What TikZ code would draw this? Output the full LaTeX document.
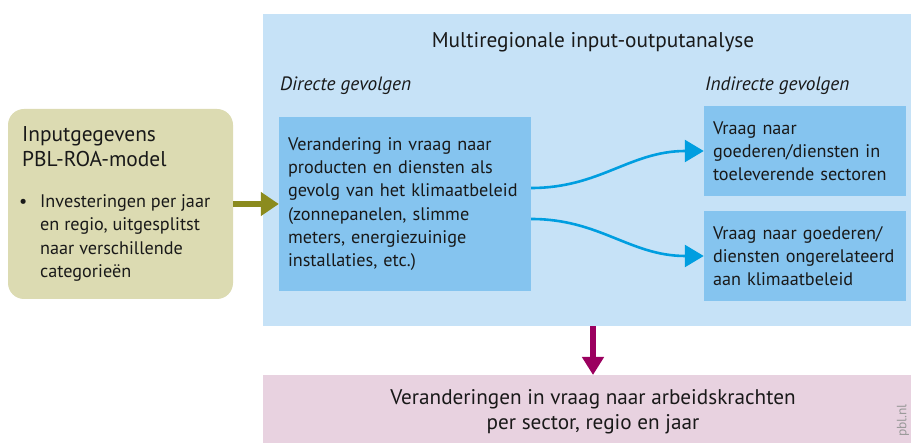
\documentclass[tikz,border=0pt]{standalone}
\usepackage{fontspec}
\setmainfont{PT Sans}
\usetikzlibrary{arrows.meta}
\definecolor{mrioblue}{RGB}{198,226,247}
\definecolor{boxblue}{RGB}{133,196,239}
\definecolor{olivebox}{RGB}{220,219,178}
\definecolor{olivearrow}{RGB}{139,139,30}
\definecolor{curveblue}{RGB}{0,158,224}
\definecolor{pinkbox}{RGB}{232,210,224}
\definecolor{purplearrow}{RGB}{155,0,95}
\definecolor{txt}{RGB}{25,25,25}
\newcommand{\bulletitem}{\makebox[23pt][l]{\hspace{2pt}\textbullet}}
\newcommand{\bulletindent}{\hspace*{23pt}}
\begin{document}
\begin{tikzpicture}[x=1pt,y=-1pt,
  area/.style={fill=#1,draw=none,inner sep=0pt,anchor=north west},
  bluebox/.style={fill=boxblue,draw=none,inner xsep=9pt,inner ysep=0pt,align=left,text=txt,
    font=\fontsize{18.2}{23.2}\selectfont},
  heading/.style={font=\fontsize{19.3}{22}\selectfont\itshape,text=txt,anchor=west,inner sep=0pt},
  curvearrow/.style={draw=curveblue,line width=2.6pt,-{Triangle[length=19pt,width=22pt]}},
]
\useasboundingbox (0,0) rectangle (911,443);
% background areas
\node[area=mrioblue,minimum width=648pt,minimum height=312pt] (mrio) at (263,14) {};
\node[area=pinkbox,minimum width=648pt,minimum height=68pt] (labour) at (263,375) {};
\node[fill=olivebox,draw=none,rounded corners=16pt,minimum width=225pt,minimum height=190pt,inner sep=0pt] (input) at (120.5,204) {};
% titles
\node[font=\fontsize{21.3}{24}\selectfont,text=txt,inner sep=0pt] (mriotitle) at (593,42) {Multiregionale input-outputanalyse};
\node[heading] (direct) at (280,86) {Directe gevolgen};
\node[heading] (indirect) at (705,86) {Indirecte gevolgen};
% left box content
\node[anchor=north west,inner sep=0pt,align=left,text=txt,font=\fontsize{21.4}{25}\selectfont] (inputtitle) at (22,126) {Inputgegevens\\PBL-ROA-model};
\node[anchor=north west,inner sep=0pt,align=left,text=txt,font=\fontsize{18.2}{23.6}\selectfont] (inputlist) at (17,194) {\bulletitem Investeringen per jaar\\\bulletindent en regio, uitgesplitst\\\bulletindent naar verschillende\\\bulletindent categorieën};
% blue boxes
\node[bluebox,minimum width=252pt,minimum height=174pt,text width=234pt] (direct box) at (405,204) {Verandering in vraag naar\\producten en diensten als\\gevolg van het klimaatbeleid\\(zonnepanelen, slimme\\meters, energiezuinige\\installaties, etc.)};
\node[bluebox,minimum width=202pt,minimum height=90pt,text width=184pt] (supply) at (805,151) {Vraag naar\\goederen/diensten in\\toeleverende sectoren};
\node[bluebox,minimum width=202pt,minimum height=90pt,text width=184pt] (unrelated) at (805,256) {Vraag naar goederen/\\diensten ongerelateerd\\aan klimaatbeleid};
% bottom text
\node[font=\fontsize{21.2}{25}\selectfont,text=txt,align=center,inner sep=0pt] (labourtext) at (593,412) {Veranderingen in vraag naar arbeidskrachten\\per sector, regio en jaar};
\node[rotate=90,anchor=east,font=\fontsize{13.5}{15}\selectfont,text=black!40,inner sep=0pt] (pbl) at (903,404) {pbl.nl};
% connectors
\draw[draw=olivearrow,line width=6.5pt,-{Triangle[length=18pt,width=23pt]}] (input.east |- 0,204) -- (direct box.west |- 0,204);
\draw[curvearrow] (direct box.east |- 0,188) .. controls (600,188) and (630,151) .. (supply.west);
\draw[curvearrow] (direct box.east |- 0,219) .. controls (600,219) and (630,256) .. (unrelated.west);
\draw[draw=purplearrow,line width=5.5pt,-{Triangle[length=18pt,width=21pt]}] (mrio.south -| 593,0) -- (labour.north -| 593,0);
\end{tikzpicture}
\end{document}
